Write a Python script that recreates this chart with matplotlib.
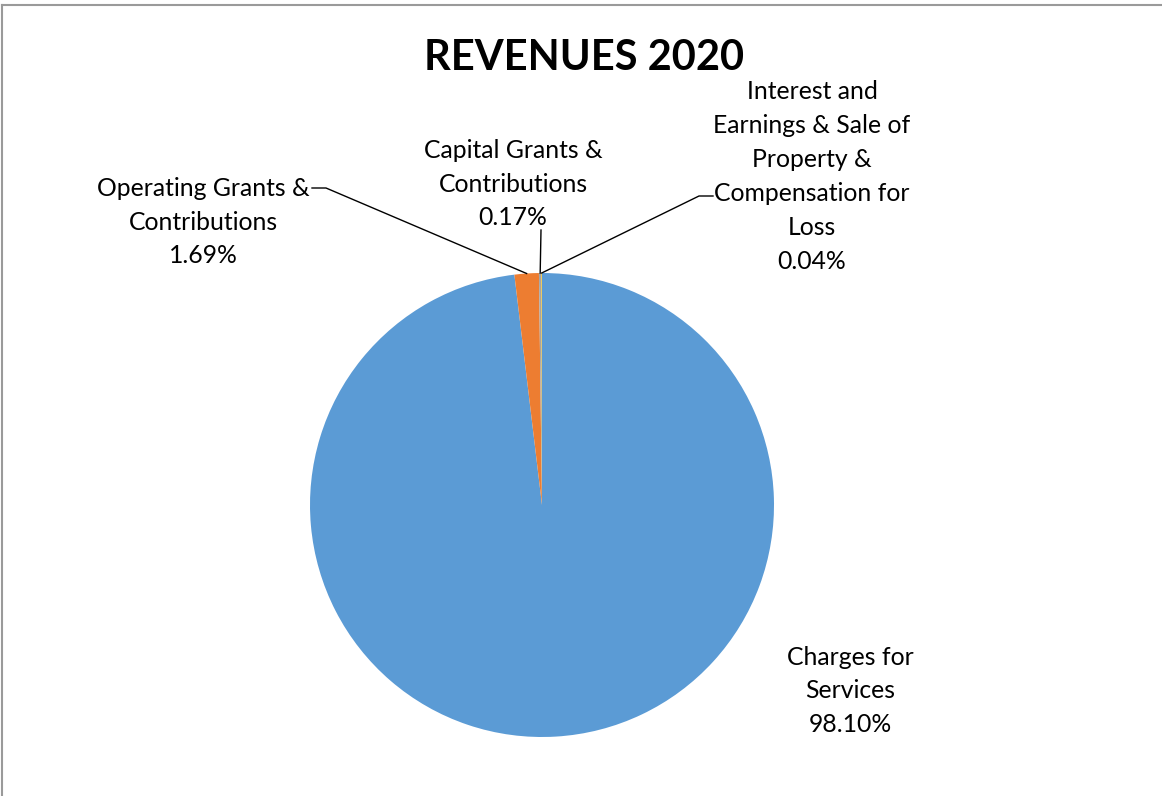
import numpy as np
import matplotlib
matplotlib.use("Agg")
import matplotlib.pyplot as plt
from matplotlib.lines import Line2D

# ---- Data ----
categories = [
    "Charges for\nServices",
    "Operating Grants &\nContributions",
    "Capital Grants &\nContributions",
    "Interest and\nEarnings & Sale of\nProperty &\nCompensation for\nLoss",
]
shares = [98.10, 1.69, 0.17, 0.04]
colors = ["#5B9BD5", "#ED7D31", "#A5A5A5", "#FFC000"]
title = "REVENUES 2020"

W, H = 1162, 796
FONT = "Lato"

fig = plt.figure(figsize=(W / 100, H / 100), dpi=100)
ax = fig.add_axes([0, 0, 1, 1])

cx, cy, r = 542, H - 505, 232
wedges, _ = ax.pie(
    shares, colors=colors, startangle=90, counterclock=False,
    center=(cx, cy), radius=r, frame=False,
    wedgeprops=dict(edgecolor="none", linewidth=0),
)
ax.set_xlim(0, W)
ax.set_ylim(0, H)
ax.set_aspect("equal")
ax.axis("off")


def edge_point(w):
    mid = np.deg2rad((w.theta1 + w.theta2) / 2)
    return cx + r * np.cos(mid), cy + r * np.sin(mid)


# label text positions in pixels (centre x, first line y)
label_pos = [(850, 658), (203, 189), (513, 151), (812, 94)]
txt_kw = dict(ha="center", va="center", fontsize=17.8, family=FONT,
              color="black", linespacing=1.57)
for name, val, (px, py) in zip(categories, shares, label_pos):
    s = f"{name}\n{val:.2f}%"
    nlines = s.count("\n") + 1
    yc = H - (py + (nlines - 1) * 33 / 2)
    ax.text(px, yc, s, **txt_kw)

# leader lines
line_kw = dict(color="black", linewidth=1.0)
ex, ey = edge_point(wedges[1])
ax.add_line(Line2D([312, 326, ex], [H - 188, H - 188, ey], **line_kw))
ex, ey = edge_point(wedges[2])
ax.add_line(Line2D([541, ex], [H - 230, ey], **line_kw))
ex, ey = edge_point(wedges[3])
ax.add_line(Line2D([713, 699, ex], [H - 196, H - 196, ey], **line_kw))

ax.text(584, H - 58, title, ha="center", va="center", fontsize=30,
        fontweight="bold", family=FONT)

# chart border (top and left only visible)
fig.add_artist(Line2D([2.5 / W, 2.5 / W], [0, 1 - 5 / H], transform=fig.transFigure,
                      color="#9a9a9a", linewidth=1.5))
fig.add_artist(Line2D([2.5 / W, 1], [1 - 5 / H, 1 - 5 / H], transform=fig.transFigure,
                      color="#9a9a9a", linewidth=1.5))

fig.savefig("out.png", dpi=100)
